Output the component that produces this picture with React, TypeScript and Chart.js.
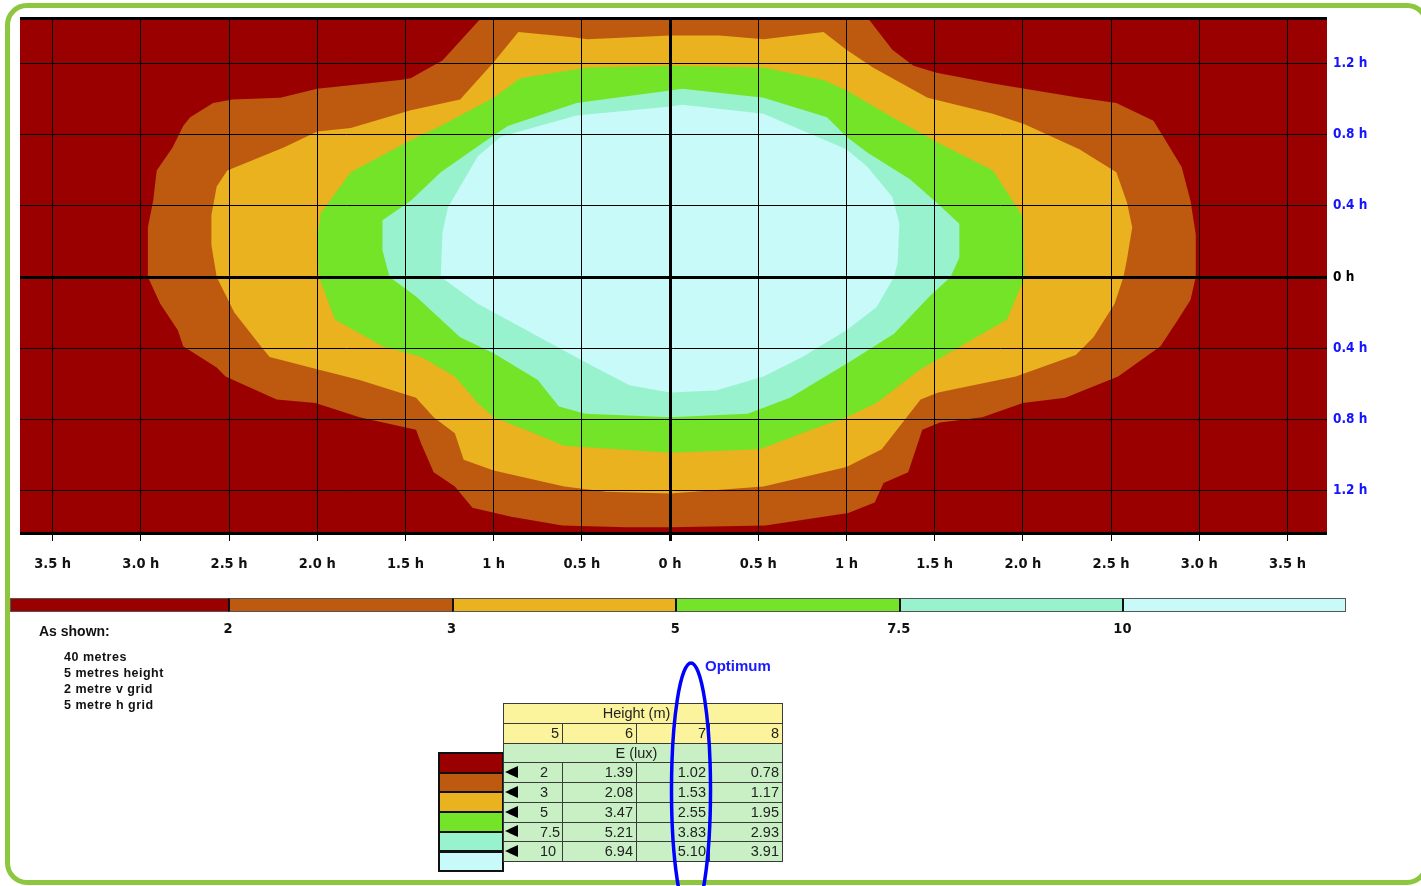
import React, { useEffect, useRef } from 'react';
import { Chart, registerables } from 'chart.js';

Chart.register(...registerables);

// ---------- data ----------
const X_MIN = -3.685;
const X_MAX = 3.724;
const Y_MIN = -1.442;
const Y_MAX = 1.459;

const xTickValues = [-3.5, -3, -2.5, -2, -1.5, -1, -0.5, 0, 0.5, 1, 1.5, 2, 2.5, 3, 3.5];
const xTickLabels = ['3.5 h', '3.0 h', '2.5 h', '2.0 h', '1.5 h', '1 h', '0.5 h', '0 h', '0.5 h', '1 h', '1.5 h', '2.0 h', '2.5 h', '3.0 h', '3.5 h'];
const yTickValues = [Y_MIN, -1.2, -0.8, -0.4, 0, 0.4, 0.8, 1.2, Y_MAX];
const yTickLabels = ['', '1.2 h', '0.8 h', '0.4 h', '0 h', '0.4 h', '0.8 h', '1.2 h', ''];

const bandColors = ['#9b0000', '#be5a0f', '#e9b21e', '#73e428', '#98f2ce', '#c8faf9'];
const luxLevels = ['2', '3', '5', '7.5', '10'];

// isolux contour outlines (x, y in units of h)
const contour2: [number, number][] = [
  [-1.07, 1.46], [1.12, 1.46], [1.26, 1.28], [1.38, 1.19], [1.51, 1.15], [1.83, 1.09], [2.01, 1.06],
  [2.32, 1.01], [2.53, 0.98], [2.74, 0.88], [2.79, 0.8], [2.9, 0.62], [2.95, 0.43], [2.98, 0.24],
  [2.98, 0], [2.95, -0.13], [2.88, -0.24], [2.78, -0.39], [2.54, -0.56], [2.24, -0.68], [2.0, -0.71],
  [1.77, -0.79], [1.53, -0.82], [1.43, -0.86], [1.35, -1.1], [1.21, -1.16], [1.16, -1.27], [1.01, -1.33],
  [0.54, -1.4], [0, -1.41], [-0.24, -1.41], [-0.61, -1.4], [-0.9, -1.35], [-1.12, -1.3], [-1.22, -1.18],
  [-1.34, -1.1], [-1.41, -0.94], [-1.44, -0.86], [-1.76, -0.79], [-2.01, -0.71], [-2.23, -0.69],
  [-2.52, -0.56], [-2.57, -0.51], [-2.76, -0.39], [-2.79, -0.3], [-2.89, -0.15], [-2.96, 0],
  [-2.96, 0.28], [-2.93, 0.43], [-2.91, 0.6], [-2.82, 0.73], [-2.76, 0.85], [-2.72, 0.9], [-2.59, 0.98],
  [-2.48, 1.0], [-2.21, 1.01], [-2.0, 1.06], [-1.53, 1.11], [-1.47, 1.12], [-1.38, 1.17], [-1.29, 1.22],
  [-1.07, 1.46],
];
const contour3: [number, number][] = [
  [-0.86, 1.38], [-0.55, 1.35], [-0.47, 1.34], [0, 1.36], [0.28, 1.36], [0.53, 1.34], [0.87, 1.38],
  [1.0, 1.28], [1.15, 1.18], [1.46, 1.01], [1.83, 0.92], [2.01, 0.86], [2.32, 0.72], [2.53, 0.59],
  [2.59, 0.42], [2.62, 0.28], [2.59, 0.1], [2.57, 0], [2.52, -0.15], [2.4, -0.34], [2.3, -0.44],
  [1.96, -0.56], [1.52, -0.65], [1.42, -0.69], [1.2, -0.97], [1.0, -1.07], [0.53, -1.18], [0, -1.22],
  [-0.36, -1.21], [-0.6, -1.18], [-1.0, -1.09], [-1.17, -1.03], [-1.22, -0.88], [-1.34, -0.79],
  [-1.44, -0.68], [-1.76, -0.58], [-2.0, -0.52], [-2.27, -0.45], [-2.32, -0.39], [-2.47, -0.2],
  [-2.57, 0], [-2.6, 0.18], [-2.6, 0.35], [-2.57, 0.51], [-2.51, 0.6], [-2.19, 0.73], [-2.0, 0.82],
  [-1.81, 0.84], [-1.47, 0.94], [-1.19, 1.0], [-1.0, 1.21], [-0.86, 1.38],
];
const contour5: [number, number][] = [
  [-0.85, 1.12], [-0.47, 1.18], [0, 1.19], [0.53, 1.18], [0.87, 1.11], [1.0, 1.05], [1.26, 0.9],
  [1.51, 0.76], [1.83, 0.6], [2.0, 0.34], [2.01, 0], [1.91, -0.24], [1.42, -0.52], [1.17, -0.71],
  [1.0, -0.79], [0.8, -0.86], [0.51, -0.97], [0, -0.99], [-0.6, -0.95], [-0.82, -0.86], [-1.0, -0.79],
  [-1.09, -0.71], [-1.22, -0.56], [-1.41, -0.45], [-1.63, -0.39], [-1.9, -0.24], [-1.99, 0],
  [-2.0, 0.21], [-1.98, 0.36], [-1.81, 0.59], [-1.47, 0.77], [-1.3, 0.85], [-1.0, 1.01], [-0.85, 1.12],
];
const contour7_5: [number, number][] = [
  [-0.53, 0.98], [0, 1.05], [0.07, 1.06], [0.53, 1.01], [0.89, 0.9], [1.0, 0.79], [1.12, 0.7],
  [1.36, 0.55], [1.51, 0.42], [1.64, 0.3], [1.64, 0.11], [1.59, 0], [1.47, -0.11], [1.27, -0.32],
  [1.03, -0.47], [0.68, -0.68], [0.44, -0.77], [0, -0.79], [-0.48, -0.77], [-0.63, -0.73],
  [-0.75, -0.58], [-1.0, -0.43], [-1.19, -0.34], [-1.44, -0.11], [-1.59, 0], [-1.63, 0.15],
  [-1.63, 0.32], [-1.47, 0.43], [-1.3, 0.59], [-1.04, 0.77], [-0.92, 0.85], [-0.53, 0.98],
];
const contour10: [number, number][] = [
  [-0.53, 0.91], [0, 0.96], [0.07, 0.97], [0.53, 0.92], [0.74, 0.83], [1.0, 0.72], [1.12, 0.62],
  [1.26, 0.45], [1.3, 0.3], [1.29, 0.08], [1.27, 0], [1.17, -0.17], [1.0, -0.3], [0.75, -0.45],
  [0.53, -0.56], [0.26, -0.64], [0, -0.65], [-0.23, -0.61], [-0.48, -0.48], [-0.85, -0.28],
  [-1.09, -0.15], [-1.3, 0], [-1.29, 0.25], [-1.26, 0.39], [-1.09, 0.68], [-0.96, 0.79], [-0.53, 0.91],
];

// table
const heightsM = ['5', '6', '7', '8'];
const eAtH5 = ['2', '3', '5', '7.5', '10'];
const eAtH6 = [1.39, 2.08, 3.47, 5.21, 6.94];
const eAtH7 = [1.02, 1.53, 2.55, 3.83, 5.1];
const eAtH8 = [0.78, 1.17, 1.95, 2.93, 3.91];

const notes = ['40 metres', '5 metres height', '2 metre v grid', '5 metre h grid'];

// ---------- styling ----------
const NARROW = '"Liberation Sans Narrow", "Arial Narrow", "DejaVu Sans Condensed", sans-serif';
const SANS = '"Liberation Sans", Arial, Helvetica, sans-serif';
const FRAME_GREEN = '#8dc63f';
const TABLE_YELLOW = '#fcf49c';
const TABLE_GREEN = '#c8f0c4';

const contourList = [contour2, contour3, contour5, contour7_5, contour10];

const bgPlugin = {
  id: 'bandBackground',
  beforeDatasetsDraw(chart: any) {
    const { ctx, chartArea: a } = chart;
    ctx.save();
    ctx.fillStyle = bandColors[0];
    ctx.fillRect(a.left, a.top, a.right - a.left, a.bottom - a.top);
    ctx.restore();
  },
};

function isThick(v: number) {
  return v === 0 || v === Y_MIN || v === Y_MAX;
}

export default function App() {
  const canvasRef = useRef<HTMLCanvasElement>(null);

  useEffect(() => {
    const canvas = canvasRef.current;
    if (!canvas) return;
    const datasets = contourList.map((pts, i) => ({
      label: luxLevels[i] + ' lux',
      data: pts.map(([x, y]) => ({ x, y })),
      backgroundColor: bandColors[i + 1],
      borderColor: bandColors[i + 1],
      borderWidth: 0,
      pointRadius: 0,
      pointHoverRadius: 0,
      tension: 0,
      fill: 'shape',
      order: contourList.length - i,
    }));

    const chart = new Chart(canvas, {
      type: 'line',
      data: { datasets } as any,
      options: {
        animation: false,
        responsive: false,
        events: [],
        layout: { autoPadding: false, padding: { left: 20, top: 18, right: 34, bottom: 17 } },
        plugins: { legend: { display: false }, tooltip: { enabled: false } },
        scales: {
          x: {
            type: 'linear',
            position: 'bottom',
            min: X_MIN,
            max: X_MAX,
            afterBuildTicks: (s: any) => {
              s.ticks = xTickValues.map((v) => ({ value: v }));
            },
            afterFit: (s: any) => {
              s.height = 50;
            },
            border: { display: false },
            grid: {
              z: 1,
              color: '#000',
              lineWidth: (c: any) => (c.tick && c.tick.value === 0 ? 3 : 1),
              drawTicks: true,
              tickLength: 8,
            },
            ticks: {
              autoSkip: false,
              maxRotation: 0,
              padding: 15,
              color: '#111',
              font: { family: NARROW, size: 14.5, weight: 'bold' },
              callback: (v: any) => {
                const i = xTickValues.indexOf(Number(v));
                return i >= 0 ? xTickLabels[i] : '';
              },
            },
          },
          y: {
            type: 'linear',
            position: 'right',
            min: Y_MIN,
            max: Y_MAX,
            afterBuildTicks: (s: any) => {
              s.ticks = yTickValues.map((v) => ({ value: v }));
            },
            afterFit: (s: any) => {
              s.width = 60;
            },
            border: { display: false },
            grid: {
              z: 1,
              color: '#000',
              lineWidth: (c: any) => (c.tick && isThick(c.tick.value) ? 3 : 1),
              drawTicks: false,
            },
            ticks: {
              autoSkip: false,
              padding: 6,
              color: (c: any) => (c.tick && c.tick.value === 0 ? '#000' : '#1515ff'),
              font: { family: NARROW, size: 13.5, weight: 'bold' },
              callback: (v: any) => {
                const i = yTickValues.indexOf(Number(v));
                return i >= 0 ? yTickLabels[i] : '';
              },
            },
          },
        },
      } as any,
      plugins: [bgPlugin],
    });
    return () => chart.destroy();
  }, []);

  // colour bar layout
  const barLeft = 10;
  const segLeft = (i: number) => (i === 0 ? barLeft : barLeft + 218 + (i - 1) * 223.6);
  const segRight = (i: number) => (i === 5 ? 1346 : segLeft(i + 1));

  const cols = [503, 562, 636, 709, 782];
  const rowH = 19.75;
  const rowTop = (r: number) => 703 + r * rowH;

  const cellBase: React.CSSProperties = {
    position: 'absolute',
    boxSizing: 'border-box',
    border: '1px solid #3a3a3a',
    fontFamily: SANS,
    fontSize: 14.5,
    color: '#222',
    lineHeight: rowH - 1 + 'px',
    whiteSpace: 'nowrap',
    overflow: 'hidden',
  };

  const cells: React.ReactNode[] = [];
  cells.push(
    <div key="h0" style={{ ...cellBase, left: cols[0], top: rowTop(0), width: cols[4] - cols[0] + 1, height: rowH + 1, background: TABLE_YELLOW, textAlign: 'center', paddingRight: 13 }}>
      Height (m)
    </div>
  );
  heightsM.forEach((h, c) => {
    cells.push(
      <div key={'h1' + c} style={{ ...cellBase, left: cols[c], top: rowTop(1), width: cols[c + 1] - cols[c] + 1, height: rowH + 1, background: TABLE_YELLOW, textAlign: 'right', paddingRight: 3 }}>
        {h}
      </div>
    );
  });
  cells.push(
    <div key="h2" style={{ ...cellBase, left: cols[0], top: rowTop(2), width: cols[4] - cols[0] + 1, height: rowH + 1, background: TABLE_GREEN, textAlign: 'center', paddingRight: 13 }}>
      E (lux)
    </div>
  );
  eAtH5.forEach((e, r) => {
    const t = rowTop(3 + r);
    cells.push(
      <div key={'d0' + r} style={{ ...cellBase, left: cols[0], top: t, width: cols[1] - cols[0] + 1, height: rowH + 1, background: TABLE_GREEN, paddingLeft: 36 }}>
        <span
          style={{
            position: 'absolute',
            left: 1,
            top: (rowH - 12) / 2 - 1,
            width: 0,
            height: 0,
            borderTop: '6px solid transparent',
            borderBottom: '6px solid transparent',
            borderRight: '13px solid #000',
          }}
        />
        {e}
      </div>
    );
    [eAtH6[r], eAtH7[r], eAtH8[r]].forEach((v, k) => {
      const c = k + 1;
      cells.push(
        <div key={'d' + c + r} style={{ ...cellBase, left: cols[c], top: t, width: cols[c + 1] - cols[c] + 1, height: rowH + 1, background: TABLE_GREEN, textAlign: 'right', paddingRight: 3 }}>
          {v.toFixed(2)}
        </div>
      );
    });
  });

  return (
    <div style={{ position: 'relative', width: 1421, height: 886, overflow: 'hidden', background: '#fff' }}>
      <style>{'html,body{margin:0;padding:0;overflow:hidden;background:#fff;}'}</style>
      <canvas ref={canvasRef} width={1421} height={600} style={{ position: 'absolute', left: 0, top: 0 }} />

      {/* green frame */}
      <div
        style={{
          position: 'absolute',
          left: 5,
          top: 3,
          width: 1424,
          height: 882,
          boxSizing: 'border-box',
          border: '5px solid ' + FRAME_GREEN,
          borderRadius: 22,
          pointerEvents: 'none',
        }}
      />

      {/* colour scale */}
      {bandColors.map((c, i) => (
        <div
          key={'seg' + i}
          style={{
            position: 'absolute',
            left: segLeft(i),
            top: 598,
            width: segRight(i) - segLeft(i),
            height: 14,
            boxSizing: 'border-box',
            background: c,
            borderTop: '1px solid #555',
            borderBottom: '1px solid #555',
            borderLeft: i === 0 ? '1px solid #555' : '2px solid #111',
            borderRight: i === 5 ? '1px solid #555' : 'none',
          }}
        />
      ))}
      {luxLevels.map((l, i) => (
        <div
          key={'lbl' + i}
          style={{
            position: 'absolute',
            left: segLeft(i + 1) - 30,
            width: 60,
            top: 619,
            textAlign: 'center',
            fontFamily: NARROW,
            fontWeight: 'bold',
            fontSize: 14.5,
            lineHeight: '18px',
            color: '#111',
          }}
        >
          {l}
        </div>
      ))}

      {/* notes */}
      <div style={{ position: 'absolute', left: 39, top: 622, fontFamily: SANS, fontWeight: 'bold', fontSize: 14, lineHeight: '18px', color: '#111' }}>
        As shown:
      </div>
      {notes.map((n, i) => (
        <div
          key={'note' + i}
          style={{ position: 'absolute', left: 64, top: 649 + i * 16, fontFamily: SANS, fontWeight: 'bold', fontSize: 12.5, letterSpacing: 0.5, lineHeight: '16px', color: '#111', whiteSpace: 'nowrap' }}
        >
          {n}
        </div>
      ))}

      {/* swatches */}
      {bandColors.map((c, i) => (
        <div
          key={'sw' + i}
          style={{ position: 'absolute', left: 438, top: 752 + i * 19.7, width: 66, height: 21.7, boxSizing: 'border-box', border: '2px solid #111', background: c }}
        />
      ))}

      {/* table */}
      {cells}

      {/* optimum marker */}
      <svg width={1421} height={886} style={{ position: 'absolute', left: 0, top: 0, pointerEvents: 'none' }}>
        <ellipse cx={691} cy={790} rx={19.5} ry={127} fill="none" stroke="#0000ff" strokeWidth={3.5} />
      </svg>
      <div style={{ position: 'absolute', left: 705, top: 657, fontFamily: SANS, fontWeight: 'bold', fontSize: 15, lineHeight: '17px', color: '#1a1aff' }}>
        Optimum
      </div>
    </div>
  );
}
